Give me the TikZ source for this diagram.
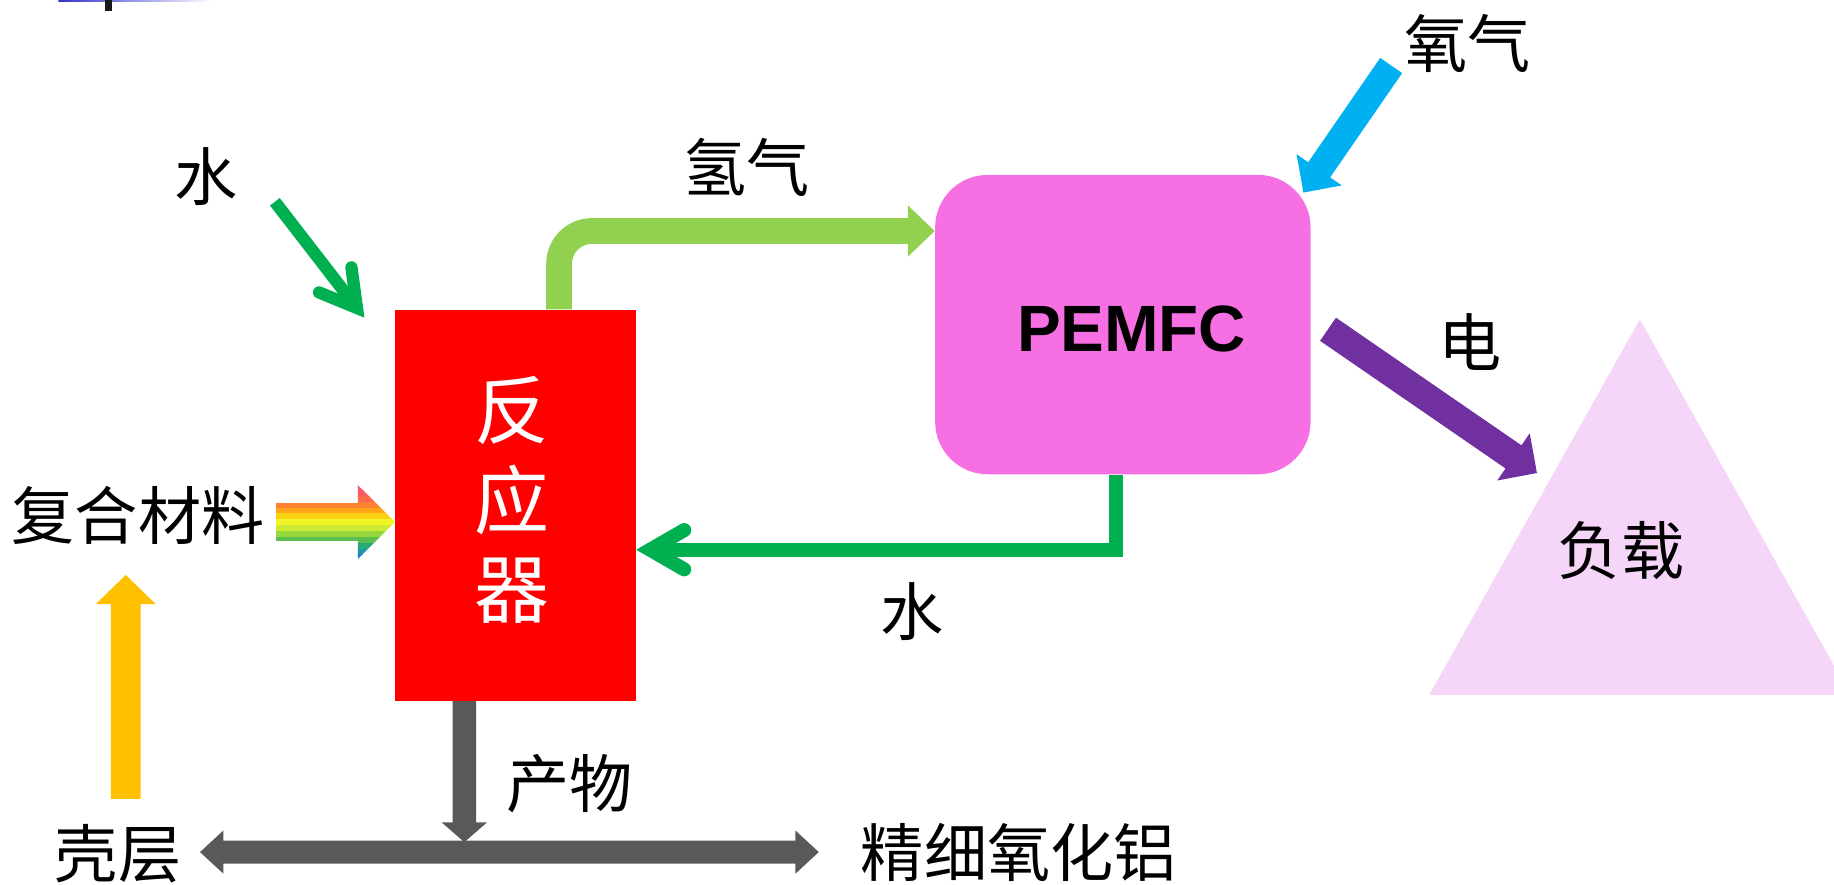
\documentclass[tikz,border=0pt]{standalone}
\usepackage{fontspec}
\newfontfamily\cjk{Noto Sans CJK SC}
\newfontfamily\lsans{Liberation Sans}
\usetikzlibrary{calc}
\definecolor{dgreen}{RGB}{0,176,80}
\definecolor{lgreen}{RGB}{146,208,80}
\definecolor{skyb}{RGB}{0,176,240}
\definecolor{purp}{RGB}{112,48,160}
\definecolor{ambr}{RGB}{255,192,0}
\definecolor{dgray}{RGB}{89,89,89}
\definecolor{pemfcpink}{RGB}{246,112,227}
\definecolor{loadpink}{RGB}{246,214,248}
\definecolor{titleblue}{RGB}{51,51,204}
\definecolor{rb1}{RGB}{255,80,120}
\definecolor{rb2}{RGB}{255,90,95}
\definecolor{rb3}{RGB}{255,105,75}
\definecolor{rb4}{RGB}{255,130,50}
\definecolor{rb5}{RGB}{255,165,25}
\definecolor{rb6}{RGB}{250,210,20}
\definecolor{rb7}{RGB}{240,245,40}
\definecolor{rb8}{RGB}{205,235,50}
\definecolor{rb9}{RGB}{150,215,60}
\definecolor{rb10}{RGB}{90,190,80}
\definecolor{rb11}{RGB}{40,170,115}
\definecolor{rb12}{RGB}{30,150,170}
\definecolor{rb13}{RGB}{30,120,220}
% block arrow: style, from, tip, shaft half width, head length, head half width
\newcommand\blockarrow[6]{%
  \coordinate (ba-h) at ($(#3)!#5!(#2)$);
  \path[#1] ($(#2)!#4!90:(#3)$) -- ($(ba-h)!#4!90:(#3)$) -- ($(ba-h)!#6!90:(#3)$) -- (#3)
    -- ($(ba-h)!#6!-90:(#3)$) -- ($(ba-h)!#4!-90:(#3)$) -- ($(#2)!#4!-90:(#3)$) -- cycle;}
% double block arrow: style, end A, end B, shaft half width, head length, head half width
\newcommand\dblarrow[6]{%
  \coordinate (da-a) at ($(#2)!#5!(#3)$);
  \coordinate (da-b) at ($(#3)!#5!(#2)$);
  \path[#1] (#2) -- ($(da-a)!#6!90:(#3)$) -- ($(da-a)!#4!90:(#3)$) -- ($(da-b)!#4!90:(#3)$)
    -- ($(da-b)!#6!90:(#3)$) -- (#3) -- ($(da-b)!#6!-90:(#3)$) -- ($(da-b)!#4!-90:(#3)$)
    -- ($(da-a)!#4!-90:(#3)$) -- ($(da-a)!#6!-90:(#3)$) -- cycle;}
% chevron head: style, direction point, tip, miter extension, barb length, half angle
\newcommand\chevhead[6]{%
  \coordinate (cv) at ($(#3)!#4!(#2)$);
  \draw[#1, line cap=round, line join=miter] ($(cv)!#5!#6:(#2)$) -- (cv) -- ($(cv)!#5!-#6:(#2)$);}
\begin{document}
\begin{tikzpicture}[x=0.5pt,y=-0.5pt,
  lbl/.style={inner sep=0pt, font=\fontsize{27}{31}\selectfont\cjk}]
\useasboundingbox (0,0) rectangle (1568,756);

% title fragment
\shade[left color=titleblue, right color=white] (50,0) rectangle (182,1.4);
\fill[black!90] (90,0) rectangle (96,9.4);

% main boxes
\node[fill=red, minimum width=102.75pt, minimum height=167pt, inner sep=0pt] (R) at (440.75,432) {};
\node[font=\fontsize{32}{38.25}\selectfont\cjk, text=white, align=center, inner sep=0pt] (Rt) at (437.5,427.5) {反\\应\\器};

\node[fill=pemfcpink, rounded corners=22.5pt, minimum width=160.5pt, minimum height=128pt, inner sep=0pt] (P) at (960,277.5) {};
\node[font=\fontsize{28}{32}\selectfont\lsans\bfseries, inner sep=0pt] (Pt) at (967.5,281.3) {PEMFC};

% load triangle
\fill[loadpink] (1402,273) -- (1222,594) -- (1568,594) -- (1568,569) -- cycle;
\node[lbl] (L) at (1386,471) {负载};

% labels
\node[lbl] (w1) at (176,151) {水};
\node[lbl] (h2) at (638,143) {氢气};
\node[lbl] (o2) at (1255,37) {氧气};
\node[lbl] (el) at (1257,292) {电};
\node[lbl] (cm) at (118,441) {复合材料};
\node[lbl] (sh) at (101,730) {壳层};
\node[lbl] (pr) at (487,670) {产物};
\node[lbl] (al) at (871,729) {精细氧化铝};
\node[lbl] (w2) at (780,523) {水};

% water in (top left)
\coordinate (w1s) at (235,172.5);
\coordinate (w1t) at ($(R.north west)+(-26,7)$);
\chevhead{dgreen, line width=5.25pt}{w1s}{w1t}{5.25pt}{17.5pt}{30}
\draw[dgreen, line width=5.25pt] (w1s) -- (cv);

% hydrogen
\coordinate (h2s) at ($(R.north)+(37.25,0)$);
\coordinate (h2t) at ($(P.west)+(0,-80)$);
\coordinate (h2b) at ($(h2t)+(-23,0)$);
\draw[lgreen, line width=11pt, rounded corners=14pt] (h2s) |- ($(h2b)+(1,0)$);
\fill[lgreen] ($(h2b)+(0,-22)$) -- (h2t) -- ($(h2b)+(0,22)$) -- cycle;

% oxygen
\coordinate (o2s) at (1189.4,56);
\coordinate (o2t) at ($(P.north east)+(-6.5,15.5)$);
\blockarrow{fill=skyb}{o2s}{o2t}{5.7pt}{11.8pt}{11.75pt}

% electricity
\coordinate (els) at ($(P.east)+(14.5,4)$);
\coordinate (elt) at (1314,404.4);
\blockarrow{fill=purp}{els}{elt}{6pt}{12.15pt}{12.25pt}

% water back
\coordinate (w2a) at ($(P.south)+(-6,0)$);
\coordinate (w2t) at ($(R.east)+(0,38)$);
\coordinate (w2c) at (w2a |- w2t);
\chevhead{dgreen, line width=6pt}{w2c}{w2t}{6pt}{16.8pt}{30}
\draw[dgreen, line width=6pt, line join=miter] (w2a) -- (w2c) -- (cv);

% shell up arrow
\coordinate (shs) at (107.5,683);
\coordinate (sht) at (107.5,491.6);
\blockarrow{fill=ambr}{shs}{sht}{6.4pt}{12.4pt}{12.8pt}

% composite material rainbow arrow
\coordinate (rbt) at ($(R.west)+(0,14.3)$);
\coordinate (rbs) at (236,446.3);
\begin{scope}
\blockarrow{clip}{rbs}{rbt}{8.1pt}{15.85pt}{15.8pt}
\foreach \c [count=\i from 0] in {rb1,rb2,rb3,rb4,rb5,rb6,rb7,rb8,rb9,rb10,rb11,rb12,rb13}
  \fill[\c] (230,414+5*\i) rectangle (345,419.6+5*\i);
\end{scope}

% products
\coordinate (prs) at ($(R.south)+(-43.75,0)$);
\coordinate (prt) at (397,720);
\blockarrow{fill=dgray}{prs}{prt}{5pt}{8.5pt}{9.75pt}
\coordinate (gl) at (171,728.5);
\coordinate (gr) at (700,728.5);
\dblarrow{fill=dgray}{gl}{gr}{4.875pt}{10pt}{9.25pt}
\end{tikzpicture}
\end{document}
